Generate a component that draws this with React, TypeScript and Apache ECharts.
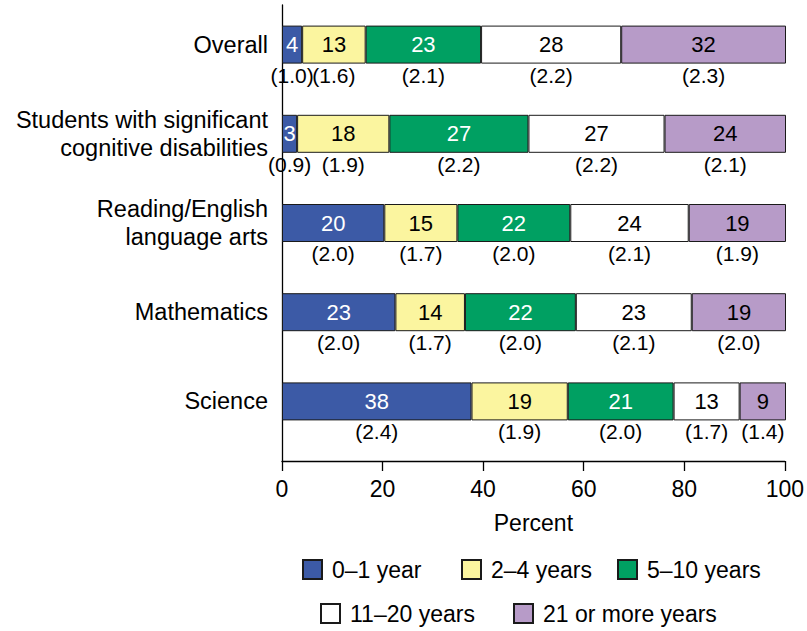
import React, { useEffect, useRef } from "react";
import * as echarts from "echarts";

const categories = [
  "Overall",
  "Students with significant\ncognitive disabilities",
  "Reading/English\nlanguage arts",
  "Mathematics",
  "Science",
];

const seriesNames = ["0–1 year", "2–4 years", "5–10 years", "11–20 years", "21 or more years"];

// Printed (rounded) percentages
const labels01 = [4, 3, 20, 23, 38];
const labels24 = [13, 18, 15, 14, 19];
const labels510 = [23, 27, 22, 22, 21];
const labels1120 = [28, 27, 24, 23, 13];
const labels21 = [32, 24, 19, 19, 9];

// Segment widths as drawn (unrounded estimates)
const seg01 = [4.0, 3.0, 20.3, 22.5, 37.6];
const seg24 = [12.6, 18.3, 14.5, 13.8, 19.1];
const seg510 = [22.9, 27.6, 22.4, 22.0, 21.0];
const seg1120 = [27.8, 27.0, 23.5, 23.0, 13.1];
const seg21 = [32.7, 24.1, 19.3, 18.7, 9.2];

// Standard errors
const se01 = ["1.0", "0.9", "2.0", "2.0", "2.4"];
const se24 = ["1.6", "1.9", "1.7", "1.7", "1.9"];
const se510 = ["2.1", "2.2", "2.0", "2.0", "2.0"];
const se1120 = ["2.2", "2.2", "2.1", "2.1", "1.7"];
const se21 = ["2.3", "2.1", "1.9", "2.0", "1.4"];

const xTicks = [0, 20, 40, 60, 80, 100];

const FONT = "'Liberation Sans', Arial, Helvetica, sans-serif";
const colors = ["#3C5AA6", "#FBF59F", "#00A062", "#FFFFFF", "#B79BC8"];
const labelColors = ["#FFFFFF", "#000000", "#FFFFFF", "#000000", "#000000"];

export default function App() {
  const ref = useRef<HTMLDivElement>(null);

  useEffect(() => {
    if (!ref.current) return;
    const chart = echarts.init(ref.current, undefined, { renderer: "svg" });

    const segs = [seg01, seg24, seg510, seg1120, seg21];
    const labs = [labels01, labels24, labels510, labels1120, labels21];
    const ses = [se01, se24, se510, se1120, se21];

    const valueSeries = segs.map((d, i) => ({
      name: seriesNames[i],
      type: "bar",
      stack: "v",
      xAxisIndex: 0,
      yAxisIndex: 0,
      barWidth: 38,
      barGap: "-100%",
      data: d,
      itemStyle: { color: colors[i], borderColor: "#1a1a1a", borderWidth: 1 },
      label: {
        show: true,
        position: "inside",
        formatter: (p: any) => String(labs[i][p.dataIndex]),
        color: labelColors[i],
        fontFamily: FONT,
        fontSize: 22,
      },
    }));

    const seSeries = segs.map((d, i) => ({
      name: "se" + i,
      type: "bar",
      stack: "se",
      xAxisIndex: 0,
      yAxisIndex: 0,
      barWidth: 38,
      barGap: "-100%",
      silent: true,
      data: d,
      itemStyle: { color: "rgba(0,0,0,0)", borderWidth: 0 },
      label: {
        show: true,
        position: "bottom",
        distance: 1,
        formatter: (p: any) => "(" + ses[i][p.dataIndex] + ")",
        color: "#000000",
        fontFamily: FONT,
        fontSize: 21,
      },
    }));

    const legendLeft = [302, 461, 617, 320, 513];
    const legendTop = [558, 558, 558, 602, 602];

    chart.setOption({
      animation: false,
      backgroundColor: "#ffffff",
      grid: [
        { left: 282, right: 21, top: -2, height: 448 },
        { left: 282, right: 21, top: 5, bottom: 170 },
      ],
      xAxis: [
        { gridIndex: 0, type: "value", min: 0, max: 100, show: false },
        {
          gridIndex: 1,
          type: "value",
          min: 0,
          max: 100,
          interval: 20,
          name: "Percent",
          nameLocation: "middle",
          nameGap: 50,
          nameTextStyle: { fontFamily: FONT, fontSize: 23, color: "#000" },
          axisLine: { show: true, lineStyle: { color: "#000", width: 1.3 } },
          axisTick: { show: true, length: 10, lineStyle: { color: "#000", width: 1.3 } },
          axisLabel: {
            margin: 16,
            fontFamily: FONT,
            fontSize: 23,
            color: "#000",
            formatter: (v: number) => (xTicks.includes(v) ? String(v) : ""),
          },
          splitLine: { show: false },
        },
      ],
      yAxis: [
        {
          gridIndex: 0,
          type: "category",
          inverse: true,
          data: categories,
          axisLine: { show: false },
          axisTick: { show: false },
          axisLabel: {
            margin: 14,
            fontFamily: FONT,
            fontSize: 23.5,
            lineHeight: 28,
            color: "#000",
            align: "right",
          },
        },
        {
          gridIndex: 1,
          type: "value",
          min: 0,
          max: 1,
          axisLine: { show: true, lineStyle: { color: "#000", width: 1.3 } },
          axisTick: { show: false },
          axisLabel: { show: false },
          splitLine: { show: false },
        },
      ],
      legend: seriesNames.map((n, i) => ({
        data: [n],
        left: legendLeft[i],
        top: legendTop[i],
        padding: 0,
        itemWidth: 19,
        itemHeight: 19,
        icon: "rect",
        selectedMode: false,
        textStyle: { fontFamily: FONT, fontSize: 23, color: "#000", padding: [0, 0, 0, 5] },
      })),
      series: [...valueSeries, ...seSeries],
    });

    return () => chart.dispose();
  }, []);

  return (
    <div
      ref={ref}
      style={{ position: "fixed", left: 0, top: 0, width: 807, height: 631, background: "#fff" }}
    />
  );
}
